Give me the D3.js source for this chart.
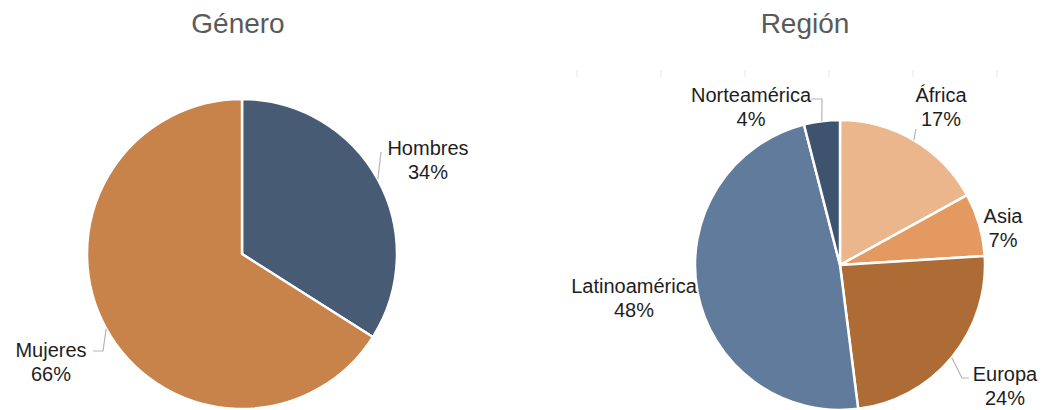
<!DOCTYPE html>
<html><head><meta charset="utf-8">
<script src="https://cdn.jsdelivr.net/npm/d3@7"></script>
<style>body{margin:0;background:#fff}svg{display:block}</style>
</head><body>
<svg id="c" width="1042" height="410"></svg>
<script>
const genderCats = ["Hombres", "Mujeres"];
const genderVals = [34, 66];
const regionCats = ["África", "Asia", "Europa", "Latinoamérica", "Norteamérica"];
const regionVals = [17, 7, 24, 48, 4];

const genderColors = ["#475b74", "#c8834a"];
const regionColors = ["#ebb68c", "#e3995f", "#ad6c35", "#617b9c", "#3e536e"];

const svg = d3.select("#c");
const font = "'Liberation Sans', Arial, sans-serif";

function drawPie(cfg) {
  const g = svg.append("g").attr("transform", `translate(${cfg.cx},${cfg.cy})`);
  const pie = d3.pie().sort(null).value(d => d.v);
  const arcs = pie(cfg.cats.map((c, i) => ({c, v: cfg.vals[i], i})));
  const arc = d3.arc().innerRadius(0).outerRadius(cfg.r);
  g.selectAll("path").data(arcs).join("path")
    .attr("d", arc).attr("fill", d => cfg.colors[d.data.i])
    .attr("stroke", "#fff").attr("stroke-width", 2.5).attr("stroke-linejoin", "round");
  arcs.forEach((a, i) => {
    const L = cfg.labels[i];
    const mid = (a.startAngle + a.endAngle) / 2;
    const px = Math.sin(mid) * cfg.r, py = -Math.cos(mid) * cfg.r;
    if (L.leader) {
      const pts = [[px, py]].concat(L.leader.map(p => [p[0] - cfg.cx, p[1] - cfg.cy]));
      g.append("path").attr("d", d3.line()(pts)).attr("fill", "none")
        .attr("stroke", "#b5b5b5").attr("stroke-width", 1.2);
    }
    const t = svg.append("text").attr("x", L.x).attr("y", L.y)
      .attr("text-anchor", "middle").attr("font-family", font)
      .attr("font-size", 20).attr("fill", "#1e1e1e");
    t.append("tspan").attr("x", L.x).text(a.data.c);
    t.append("tspan").attr("x", L.x).attr("dy", 23.5).text(d3.format(".0f")(a.data.v) + "%");
  });
  svg.append("text").attr("x", cfg.tx).attr("y", 33).attr("text-anchor", "middle")
    .attr("font-family", font).attr("font-size", 28).attr("fill", "#5a5a5a").text(cfg.title);
}

// faint tick marks (right panel)
const tickScale = d3.scaleLinear().domain([0, 5]).range([577, 997]);
svg.append("g").selectAll("line").data(d3.range(6)).join("line")
  .attr("x1", d => tickScale(d)).attr("x2", d => tickScale(d))
  .attr("y1", 70).attr("y2", 77).attr("stroke", "#e6e6e6").attr("stroke-width", 1);

drawPie({
  cx: 242, cy: 254, r: 155, cats: genderCats, vals: genderVals, colors: genderColors,
  title: "Género", tx: 238,
  labels: [
    {x: 428, y: 155, leader: [[381, 152]]},
    {x: 51, y: 357, leader: [[103, 351], [93, 351]]}
  ]
});

drawPie({
  cx: 840, cy: 265, r: 145, cats: regionCats, vals: regionVals, colors: regionColors,
  title: "Región", tx: 805,
  labels: [
    {x: 941, y: 102, leader: [[916, 129]]},
    {x: 1003, y: 223},
    {x: 1005, y: 381, leader: [[962, 378], [969, 378]]},
    {x: 634, y: 293},
    {x: 751, y: 102, leader: [[822, 99], [811, 99]]}
  ]
});
</script>
</body></html>
